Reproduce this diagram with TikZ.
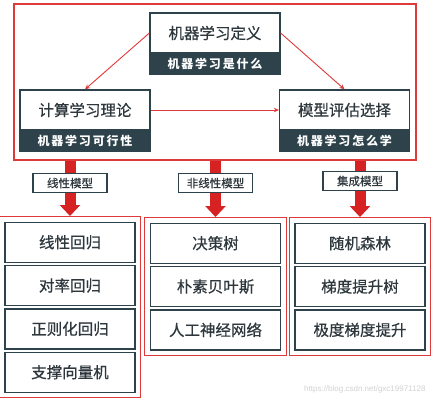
\documentclass[tikz,border=0pt]{standalone}
\usepackage{fontspec}
\setmainfont{Noto Sans CJK SC}
\newfontfamily\markfont{Liberation Sans}
\usetikzlibrary{matrix,arrows.meta,positioning}
\definecolor{framered}{RGB}{222,58,58}
\definecolor{fatred}{RGB}{214,34,34}
\definecolor{slate}{RGB}{45,66,74}
\definecolor{inkgray}{RGB}{45,55,60}

\tikzset{
  title/.style={draw=slate, line width=1.3pt, fill=white, text=inkgray, minimum width=130pt, minimum height=40pt, inner sep=0pt, font=\fontsize{15.5}{18}\selectfont\addfontfeatures{FakeBold=0.5}},
  subbar/.style={draw=slate, line width=1.3pt, fill=slate, text=white, minimum width=130pt, minimum height=20pt, inner sep=0pt, font=\fontsize{12}{14}\selectfont\bfseries\addfontfeatures{LetterSpace=15}},
  item/.style={title},
  tag/.style={draw=slate, line width=1.1pt, fill=white, text=inkgray, minimum width=74pt, minimum height=19pt, inner sep=0pt, font=\fontsize{11.5}{13}\selectfont\addfontfeatures{FakeBold=0.4}},
  thin arrow/.style={draw=framered, line width=0.9pt, -{Stealth[length=5pt,width=4.5pt]}},
  fat arrow/.style={draw=fatred, line width=11pt, -{Triangle[length=11pt,width=20pt]}},
  group/.style={matrix of nodes, draw=framered, line width=1.2pt, inner sep=5pt, row sep=2pt, nodes={item}}
}

\begin{document}
\begin{tikzpicture}[x=1pt, y=-1pt]
  \useasboundingbox[fill=white] (0,0) rectangle (433,400);

  % upper part
  \node (upper) [draw=framered, line width=1.2pt, minimum width=402pt, minimum height=156pt] at (215,82) {};
  \node (def) [title] at (215,33) {机器学习定义};
  \node (def sub) [subbar, below=0pt of def] {机器学习是什么};
  \node (theory) [title] at (85,110) {计算学习理论};
  \node (theory sub) [subbar, below=0pt of theory] {机器学习可行性};
  \node (select) [title] at (344.5,110) {模型评估选择};
  \node (select sub) [subbar, below=0pt of select] {机器学习怎么学};

  \draw[thin arrow] (def.west) -- (theory.north);
  \draw[thin arrow] (def.east) -- (select.north);
  \draw[thin arrow] (theory.east) -- (select.west);

  % model groups
  \matrix (linear) [group, anchor=north] at (70,216)
  {
    线性回归 \\
    对率回归 \\
    正则化回归 \\
    支撑向量机 \\
  };
  \matrix (nonlinear) [group, anchor=north] at (215.5,217)
  {
    决策树 \\
    朴素贝叶斯 \\
    人工神经网络 \\
  };
  \matrix (ensemble) [group, anchor=north] at (360,217)
  {
    随机森林 \\
    梯度提升树 \\
    极度梯度提升 \\
  };

  \draw[fat arrow] (linear.north |- upper.south) -- (linear.north);
  \draw[fat arrow] (nonlinear.north |- upper.south) -- (nonlinear.north);
  \draw[fat arrow] (ensemble.north |- upper.south) -- (ensemble.north);

  \path (linear.north |- upper.south) ++(0,22.5) node (linear tag) [tag] {线性模型};
  \path (nonlinear.north |- upper.south) ++(0,22.5) node (nonlinear tag) [tag] {非线性模型};
  \path (ensemble.north |- upper.south) ++(0,20.5) node (ensemble tag) [tag] {集成模型};

  \node (mark) [anchor=east, text=gray!35, font=\markfont\fontsize{8}{9}\selectfont] at (429,389) {https://blog.csdn.net/gxc19971128};
\end{tikzpicture}
\end{document}
